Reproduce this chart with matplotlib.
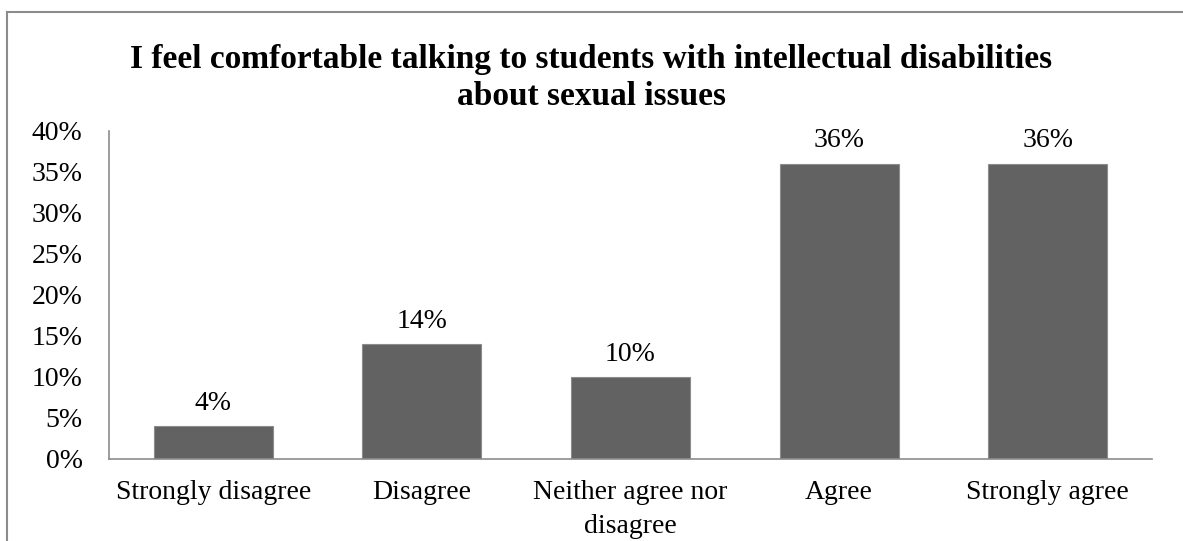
import matplotlib
matplotlib.use("Agg")
import matplotlib.pyplot as plt
from matplotlib.lines import Line2D
from matplotlib.ticker import FuncFormatter

plt.rcParams["font.family"] = ["Liberation Serif", "DejaVu Serif"]

TITLE = "I feel comfortable talking to students with intellectual disabilities\nabout sexual issues"
categories = ["Strongly disagree", "Disagree", "Neither agree nor\ndisagree", "Agree", "Strongly agree"]
shares = [4, 14, 10, 36, 36]
y_ticks = [0, 5, 10, 15, 20, 25, 30, 35, 40]

BAR_COLOR = "#626262"
AXIS_COLOR = "#8c8c8c"


def main():
    fig = plt.figure(figsize=(11.83, 5.41), dpi=100)
    ax = fig.add_axes([0.0921, 0.1516, 0.8817, 0.6063])

    x = range(len(categories))
    bars = ax.bar(x, shares, width=0.57, color=BAR_COLOR, edgecolor=AXIS_COLOR, linewidth=0.8)

    for rect, val in zip(bars, shares):
        ax.annotate(f"{val}%", (rect.get_x() + rect.get_width() / 2, rect.get_height()),
                    xytext=(0, 7.5), textcoords="offset points",
                    ha="center", va="bottom", fontsize=20)

    ax.set_xlim(-0.5, len(categories) - 0.5)
    ax.set_ylim(0, 40)
    ax.set_yticks(y_ticks)
    ax.yaxis.set_major_formatter(FuncFormatter(lambda v, _: f"{v:.0f}%"))
    ax.set_xticks(list(x))
    ax.set_xticklabels(categories, linespacing=1.5)
    ax.tick_params(axis="y", length=0, pad=19, labelsize=20)
    ax.tick_params(axis="x", length=0, pad=15, labelsize=20)

    for side in ("top", "right"):
        ax.spines[side].set_visible(False)
    for side in ("left", "bottom"):
        ax.spines[side].set_color(AXIS_COLOR)
        ax.spines[side].set_linewidth(1.2)

    fig.text(0.5, 0.856, TITLE, ha="center", va="center", fontsize=24,
             fontweight="bold", linespacing=1.28)

    # chart area frame, open on the right and bottom
    fx, fy = 7 / 1183, 1 - 12 / 541
    fig.add_artist(Line2D([fx, fx], [fy, -0.1], transform=fig.transFigure,
                          color=AXIS_COLOR, linewidth=1.5))
    fig.add_artist(Line2D([fx, 1.1], [fy, fy], transform=fig.transFigure,
                          color=AXIS_COLOR, linewidth=1.5))

    fig.savefig("out.png", dpi=100)
    plt.close(fig)


if __name__ == "__main__":
    main()
